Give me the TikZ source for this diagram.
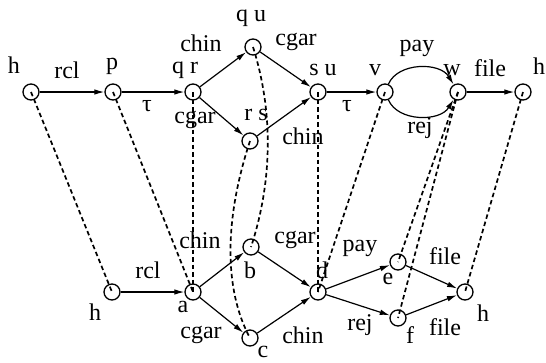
\documentclass[tikz,border=0pt]{standalone}
\usepackage{fontspec}
\setmainfont{Liberation Serif}
\usetikzlibrary{arrows.meta}
\begin{document}
\begin{tikzpicture}[x=1pt,y=-1pt,
  state/.style={circle,draw,line width=1.3pt,minimum size=16pt,inner sep=0pt},
  trans/.style={line width=1.2pt,-{Latex[length=10pt,width=5.5pt]}},
  corr/.style={line width=1.7pt,dash pattern=on 4.5pt off 3pt},
  lbl/.style={inner sep=0pt,font=\fontsize{24}{26}\selectfont}]
\useasboundingbox (0,0) rectangle (546,362);

% upper process
\node[state] (th)  at (31,92)  {};
\node[state] (tp)  at (113,92) {};
\node[state] (tqr) at (193,92) {};
\node[state] (tqu) at (253,47) {};
\node[state] (trs) at (250,141) {};
\node[state] (tsu) at (318,92) {};
\node[state] (tv)  at (385,92) {};
\node[state] (tw)  at (458,92) {};
\node[state] (th2) at (523,92) {};

% lower process
\node[state] (bh)  at (112,292) {};
\node[state] (ba)  at (193,292) {};
\node[state] (bb)  at (251,247) {};
\node[state] (bc)  at (250,338) {};
\node[state] (bd)  at (318,292) {};
\node[state] (be)  at (398,262) {};
\node[state] (bf)  at (398,318) {};
\node[state] (bh2) at (465,292) {};

% correspondences
\draw[corr] (th.center) -- (bh.center);
\draw[corr] (tp.center) -- (ba.center);
\draw[corr] (tqr.center) -- (ba.center);
\draw[corr] (tqu.center) .. controls (273,110) and (273,180) .. (bb.center);
\draw[corr] (trs.center) .. controls (224,220) and (224,290) .. (bc.center);
\draw[corr] (tsu.center) -- (bd.center);
\draw[corr] (tv.center) -- (bd.center);
\draw[corr] (tw.center) -- (be.center);
\draw[corr] (tw.center) -- (bf.center);
\draw[corr] (th2.center) -- (bh2.center);

% upper transitions
\draw[trans] (th) -- (tp);
\draw[trans] (tp) -- (tqr);
\draw[trans] (tqr) -- (tqu);
\draw[trans] (tqr) -- (trs);
\draw[trans] (tqu) -- (tsu);
\draw[trans] (trs) -- (tsu);
\draw[trans] (tsu) -- (tv);
\draw[trans] (tv) .. controls (398,62) and (440,62) .. (tw);
\draw[trans] (tv) .. controls (398,122) and (440,122) .. (tw);
\draw[trans] (tw) -- (th2);

% lower transitions
\draw[trans] (bh) -- (ba);
\draw[trans] (ba) -- (bb);
\draw[trans] (ba) -- (bc);
\draw[trans] (bb) -- (bd);
\draw[trans] (bc) -- (bd);
\draw[trans] (bd) -- (be);
\draw[trans] (bd) -- (bf);
\draw[trans] (be) -- (bh2);
\draw[trans] (bf) -- (bh2);

% upper labels
\node[lbl] (l1)  at (14,65)  {h};
\node[lbl] (l2)  at (67,70)  {rcl};
\node[lbl] (l3)  at (112,66) {p};
\node[lbl] (l4)  at (147,106) {τ};
\node[lbl] (l5)  at (185,70) {q r};
\node[lbl] (l6)  at (201,43) {chin};
\node[lbl] (l7)  at (195,120) {cgar};
\node[lbl] (l8)  at (251,18) {q u};
\node[lbl] (l9)  at (296,42) {cgar};
\node[lbl] (l10) at (256,115) {r s};
\node[lbl] (l11) at (303,136) {chin};
\node[lbl] (l12) at (323,70) {s u};
\node[lbl] (l13) at (347,106) {τ};
\node[lbl] (l14) at (375,70) {v};
\node[lbl] (l15) at (417,48) {pay};
\node[lbl] (l16) at (452,70) {w};
\node[lbl] (l17) at (490,68) {file};
\node[lbl] (l18) at (420,128) {rej};
\node[lbl] (l19) at (539,66) {h};

% lower labels
\node[lbl] (m1)  at (200,240) {chin};
\node[lbl] (m2)  at (148,270) {rcl};
\node[lbl] (m3)  at (95,312) {h};
\node[lbl] (m4)  at (183,307) {a};
\node[lbl] (m5)  at (250,270) {b};
\node[lbl] (m6)  at (295,240) {cgar};
\node[lbl] (m7)  at (322,270) {d};
\node[lbl] (m8)  at (360,248) {pay};
\node[lbl] (m9)  at (201,335) {cgar};
\node[lbl] (m10) at (303,335) {chin};
\node[lbl] (m11) at (263,352) {c};
\node[lbl] (m12) at (360,325) {rej};
\node[lbl] (m13) at (388,279) {e};
\node[lbl] (m14) at (410,335) {f};
\node[lbl] (m15) at (445,256) {file};
\node[lbl] (m16) at (445,327) {file};
\node[lbl] (m17) at (483,313) {h};
\end{tikzpicture}
\end{document}
